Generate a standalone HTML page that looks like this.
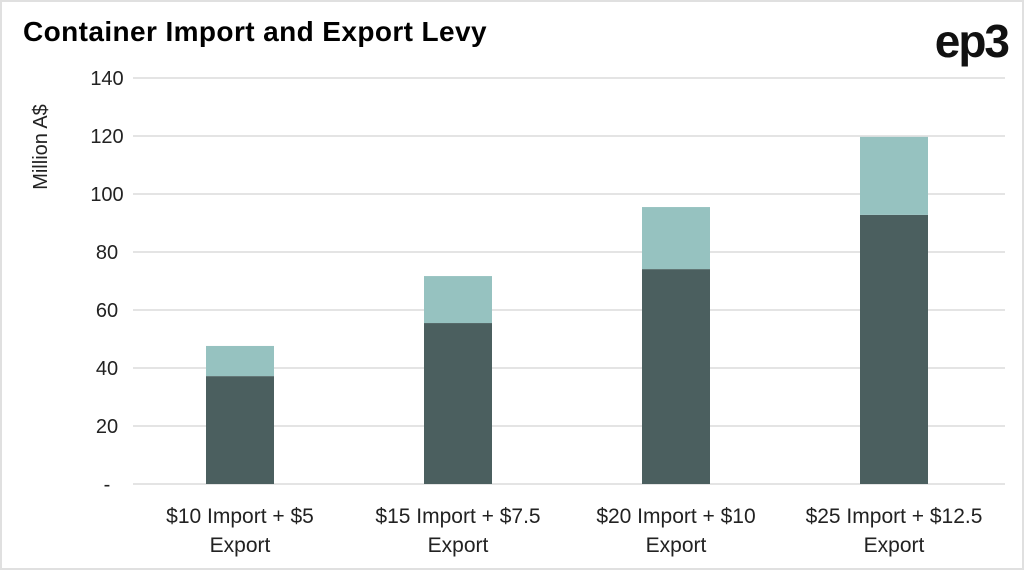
<!DOCTYPE html>
<html><head><meta charset="utf-8"><style>
html,body{margin:0;padding:0;background:#fff;}
#wrap{position:relative;width:1020px;height:566px;border:2px solid #e0e0e0;overflow:hidden;font-family:"Liberation Sans",sans-serif;}
#title{position:absolute;left:21px;top:14px;font-size:28px;font-weight:bold;color:#000;letter-spacing:0.4px;}
#logo{position:absolute;right:14px;top:12px;font-size:46px;font-weight:bold;color:#111;letter-spacing:-2px;}
svg{position:absolute;left:0;top:0;}
</style></head><body>
<div id="wrap">
<div id="title">Container Import and Export Levy</div>
<div id="logo">ep3</div>
<svg id="chart" width="1020" height="566"></svg>
</div>
<script>
const categories=[["$10 Import + $5","Export"],["$15 Import + $7.5","Export"],["$20 Import + $10","Export"],["$25 Import + $12.5","Export"]];
const importVals=[37.2,55.5,74.1,92.8];
const exportVals=[10.4,16.2,21.4,26.9];
const yTicks=[0,20,40,60,80,100,120,140];
const yTickLabels=["-","20","40","60","80","100","120","140"];
const NS="http://www.w3.org/2000/svg";
const svg=document.getElementById('chart');
const x0=129,x1=1001,y0=482,yTop=76,yMax=140;
function y(v){return y0-(v/yMax)*(y0-yTop);}
function xc(i){return x0+(i+0.5)*(x1-x0)/categories.length;}
function mk(t,a){const e=document.createElementNS(NS,t);for(const k in a)e.setAttribute(k,a[k]);svg.appendChild(e);return e;}
yTicks.forEach((t,i)=>{
 const g=mk('line',{x1:131,x2:1003,y1:y(t),y2:y(t),stroke:'#dcdcdc','stroke-width':1.5});
 
 
 const l=mk('text',{x:105,y:y(t)+7,'text-anchor':'middle','font-size':20,fill:'#222','font-family':'Liberation Sans, sans-serif'});
 l.textContent=yTickLabels[i];
 
 
});
const yt=mk('text',{transform:'translate(45,145) rotate(-90)','text-anchor':'middle','font-size':20,fill:'#222','font-family':'Liberation Sans, sans-serif'});
yt.textContent='Million A$';


const bw=68;
categories.forEach((c,i)=>{
 const cx=xc(i);
 const b1=mk('rect',{x:cx-bw/2,y:y(importVals[i]),width:bw,height:y0-y(importVals[i]),fill:'#4b5f5f'});
 
 
 const tot=importVals[i]+exportVals[i];
 const b2=mk('rect',{x:cx-bw/2,y:y(tot),width:bw,height:y(importVals[i])-y(tot),fill:'#96c2c0'});
 
 
 c.forEach((s,j)=>{
  const t=mk('text',{x:cx,y:521+j*29,'text-anchor':'middle','font-size':21,fill:'#222','font-family':'Liberation Sans, sans-serif'});
  t.textContent=s;
  
  
 });
});
</script>
</body></html>
